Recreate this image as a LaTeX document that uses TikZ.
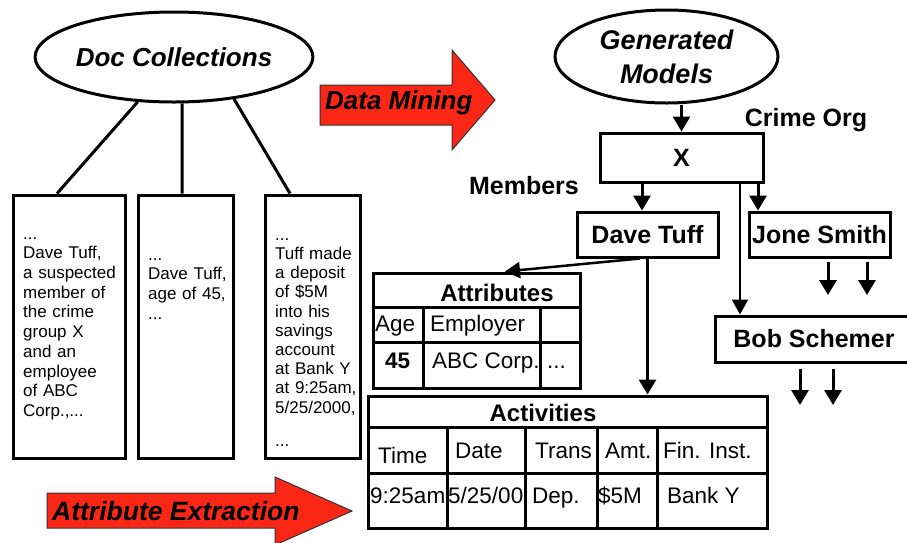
\documentclass[tikz,border=0pt]{standalone}
\usepackage{fontspec}
\setmainfont{Liberation Sans}
\usetikzlibrary{arrows.meta,shapes.geometric,calc}
\definecolor{mineRed}{RGB}{250,38,22}
\hyphenpenalty=10000
\exhyphenpenalty=10000
\tikzset{
  bx/.style={draw, line width=3pt, rectangle, inner sep=0pt},
  oval/.style={draw, ellipse, line width=3pt, inner sep=0pt},
  lnk/.style={line width=3pt},
  arr/.style={line width=3pt, -{Triangle[length=15pt,width=17pt]}},
  thinarr/.style={line width=2.5pt, -{Triangle[length=15pt,width=16pt]}},
  gridline/.style={line width=3pt},
  bigarrow/.style={fill=mineRed, draw=black!80, line width=1pt},
  docfont/.style={font=\fontsize{17}{19.7}\selectfont, inner sep=0pt, align=left, anchor=north west, text width=100pt},
  namefont/.style={font=\fontsize{25}{30}\selectfont\bfseries},
  titlefont/.style={font=\fontsize{24}{28}\selectfont\bfseries, inner sep=0pt, anchor=base},
  cellfont/.style={font=\fontsize{22.5}{26}\selectfont, inner sep=0pt, anchor=base west},
  bigfont/.style={font=\fontsize{26}{30}\selectfont\bfseries\itshape, inner sep=0pt, anchor=base west},
}
\begin{document}
\begin{tikzpicture}[x=1pt,y=-1pt]
\useasboundingbox (0,0) rectangle (907,542);
\clip (0,0) rectangle (907,542);

% ---------- source documents ----------
\node[oval, minimum width=222pt, minimum height=90pt,
      font=\fontsize{26}{30}\selectfont\bfseries\itshape] (dc) at (174,57) {Doc Collections};
\node[bx, minimum width=112pt, minimum height=263pt] (b1) at (69,326.5) {};
\node[bx, minimum width=95pt, minimum height=263pt] (b2) at (185.5,326.5) {};
\node[bx, minimum width=95pt, minimum height=263pt] (b3) at (312.5,326.5) {};

\draw[lnk] (dc.231) -- ($(b1.north)+(-12,0)$);
\draw[lnk] (dc.-80) -- ($(b2.north)+(-3.5,0)$);
\draw[lnk] (dc.-35) -- ($(b3.north)+(-22.5,0)$);

\node[docfont] (t1) at (23,225.2) {\strut...\\Dave Tuff,\\a suspected\\member of\\the crime\\group X\\and an\\employee\\of ABC\\Corp.,...};
\node[docfont] (t2) at (148,246.2) {\strut...\\Dave Tuff,\\age of 45,\\...};
\node[docfont, font=\fontsize{17}{19.2}\selectfont] (t3) at (275,226.6) {\strut...\\Tuff made\\a deposit\\of \$5M\\into his\\savings\\account\\at Bank Y\\at 9:25am,\\5/25/2000,\\[13.8pt]...};

% ---------- process arrows ----------
\draw[bigarrow] (320,85) -- (452,85) -- (452,50) -- (495,100) -- (452,150) -- (452,125) -- (320,125) -- cycle;
\node[bigfont] (dm) at (325,109) {Data Mining};
\draw[bigarrow] (47,493) -- (275,493) -- (275,477) -- (352,511) -- (275,545) -- (275,528) -- (47,528) -- cycle;
\node[bigfont, font=\fontsize{26.5}{30}\selectfont\bfseries\itshape] (ae) at (52,520.5) {Attribute Extraction};

% ---------- generated model ----------
\node[oval, minimum width=223pt, minimum height=93pt, align=center,
      font=\fontsize{27}{34}\selectfont\bfseries\itshape] (gm) at (666.5,56.5) {Generated\\Models};
\node[bx, minimum width=163pt, minimum height=49pt, namefont] (x) at (681.5,157.5) {X};
\node[bx, minimum width=141pt, minimum height=45pt, namefont] (dt) at (647.5,234.5) {Dave Tuff};
\node[bx, minimum width=141pt, minimum height=45pt, namefont] (js) at (819.5,234.5) {Jone Smith};
\node[bx, minimum width=198pt, minimum height=46pt, namefont] (bs) at (814,339) {Bob Schemer};

\node[namefont, anchor=base, inner sep=0pt] (crime) at (806,126) {Crime Org};
\node[namefont, anchor=base, inner sep=0pt] (mem) at (524,194) {Members};

\draw[arr] (x.north |- gm.south) -- (x.north);
\coordinate (dtin) at ($(dt.north)+(-5.5,0)$);
\coordinate (jsin) at ($(js.north)+(-61.5,0)$);
\coordinate (bsin) at ($(bs.north)+(-74,0)$);
\draw[arr] (dtin |- x.south) -- (dtin);
\draw[arr] (jsin |- x.south) -- (jsin);
\draw[thinarr] (bsin |- x.south) -- (bsin);

\coordinate (js1) at (828,295);
\coordinate (js2) at (867,295);
\draw[arr, shorten <=3pt] (js1 |- js.south) -- (js1);
\draw[arr, shorten <=3pt] (js2 |- js.south) -- (js2);
\coordinate (bs1) at (800,405);
\coordinate (bs2) at (833,405);
\draw[arr, shorten <=5pt] (bs1 |- bs.south) -- (bs1);
\draw[arr, shorten <=5pt] (bs2 |- bs.south) -- (bs2);

% ---------- attributes table ----------
\node[bx, minimum width=207pt, minimum height=115pt] (attr) at (476.5,330.5) {};
\draw[gridline] (373,307) -- (580,307);
\draw[gridline] (373,342) -- (580,342);
\draw[gridline] (423,307) -- (423,388);
\draw[gridline] (540,307) -- (540,388);
\node[titlefont] (attrt) at (497,301.5) {Attributes};
\node[cellfont] (ageh) at (375,331) {Age};
\node[cellfont] (emph) at (430,331) {Employer};
\node[cellfont, font=\fontsize{22.5}{26}\selectfont\bfseries] (agev) at (385,368) {45};
\begin{scope}
  \clip (424.5,343.5) rectangle (538.5,386.5);
  \node[cellfont] (empv) at (432,368) {ABC Corp.};
\end{scope}
\node[cellfont] (more) at (547,368) {...};

\coordinate (dtout) at ($(dt.south)+(-7.5,0)$);
\coordinate (attrin) at ($(attr.north)+(28.5,0)$);
\draw[thinarr] (dtout) -- (attrin);

% ---------- activities table ----------
\node[bx, minimum width=399pt, minimum height=132pt] (act) at (567.5,462) {};
\draw[gridline] (368,427) -- (767,427);
\draw[gridline] (368,473) -- (767,473);
\foreach \cx in {447,525,597,657} \draw[gridline] (\cx,427) -- (\cx,528);
\node[titlefont] (actt) at (543,421.5) {Activities};
\node[cellfont] (h1) at (378,463) {Time};
\node[cellfont] (h2) at (455,458) {Date};
\node[cellfont] (h3) at (535,458) {Trans};
\node[cellfont] (h4) at (605,458) {Amt.};
\node[cellfont] (h5) at (663,458) {Fin. Inst.};
\node[cellfont] (v1) at (370,503) {9:25am};
\node[cellfont] (v2) at (448,503) {5/25/00};
\node[cellfont] (v3) at (532,503) {Dep.};
\node[cellfont] (v4) at (598,503) {\$5M};
\node[cellfont] (v5) at (667,503) {Bank Y};

\draw[arr] (dt.south) -- (dt.south |- act.north);
\end{tikzpicture}
\end{document}
